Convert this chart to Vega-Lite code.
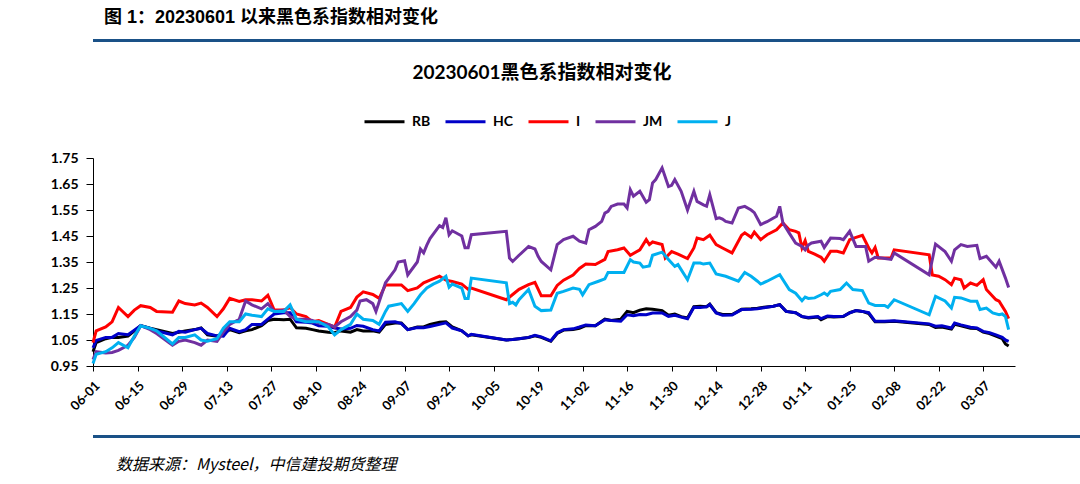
{
  "$schema": "https://vega.github.io/schema/vega-lite/v6.json",
  "background": "white",
  "padding": {"left": 22, "top": 8, "right": 0, "bottom": 0},
  "spacing": 20,
  "resolve": {"legend": {"color": "independent"}},
  "config": {"view": {"stroke": null}, "axis": {"grid": false, "domainColor": "black", "tickColor": "black", "labelColor": "black", "labelFont": "Lato", "labelFontWeight": "bold"}},
  "vconcat": [
    {
      "width": 1040, "height": 3,
      "data": {"values": [{}]},
      "mark": {"type": "point", "opacity": 0},
      "view": {"fill": "#1a5187", "stroke": null},
      "title": {"text": "图 1：20230601 以来黑色系指数相对变化", "anchor": "start", "font": "Liberation Sans, Noto Sans CJK SC", "fontSize": 18, "fontWeight": "bold", "color": "black", "offset": 11, "dx": 11}
    },
    {
      "width": 922, "height": 208,
      "title": {"text": "20230601黑色系指数相对变化", "font": "Lato, Noto Sans CJK SC", "fontSize": 19, "fontWeight": "bold", "color": "black", "anchor": "middle", "frame": "group", "dx": -12, "offset": 17},
      "data": {"values": [
{"s":"RB","d":"2023-06-01","v":1.005},{"s":"RB","d":"2023-06-02","v":1.04},{"s":"RB","d":"2023-06-05","v":1.055},{"s":"RB","d":"2023-06-07","v":1.06},{"s":"RB","d":"2023-06-09","v":1.06},{"s":"RB","d":"2023-06-12","v":1.065},{"s":"RB","d":"2023-06-14","v":1.085},{"s":"RB","d":"2023-06-16","v":1.105},{"s":"RB","d":"2023-06-19","v":1.095},{"s":"RB","d":"2023-06-21","v":1.09},{"s":"RB","d":"2023-06-26","v":1.075},{"s":"RB","d":"2023-06-28","v":1.08},{"s":"RB","d":"2023-06-30","v":1.085},{"s":"RB","d":"2023-07-03","v":1.09},{"s":"RB","d":"2023-07-05","v":1.096},{"s":"RB","d":"2023-07-07","v":1.07},{"s":"RB","d":"2023-07-10","v":1.065},{"s":"RB","d":"2023-07-12","v":1.075},{"s":"RB","d":"2023-07-14","v":1.09},{"s":"RB","d":"2023-07-17","v":1.078},{"s":"RB","d":"2023-07-19","v":1.085},{"s":"RB","d":"2023-07-21","v":1.09},{"s":"RB","d":"2023-07-24","v":1.105},{"s":"RB","d":"2023-07-26","v":1.125},{"s":"RB","d":"2023-07-28","v":1.13},{"s":"RB","d":"2023-07-31","v":1.128},{"s":"RB","d":"2023-08-02","v":1.13},{"s":"RB","d":"2023-08-04","v":1.097},{"s":"RB","d":"2023-08-07","v":1.095},{"s":"RB","d":"2023-08-09","v":1.09},{"s":"RB","d":"2023-08-11","v":1.085},{"s":"RB","d":"2023-08-14","v":1.08},{"s":"RB","d":"2023-08-16","v":1.078},{"s":"RB","d":"2023-08-18","v":1.085},{"s":"RB","d":"2023-08-21","v":1.08},{"s":"RB","d":"2023-08-23","v":1.09},{"s":"RB","d":"2023-08-25","v":1.085},{"s":"RB","d":"2023-08-28","v":1.085},{"s":"RB","d":"2023-08-30","v":1.08},{"s":"RB","d":"2023-09-01","v":1.11},{"s":"RB","d":"2023-09-04","v":1.115},{"s":"RB","d":"2023-09-06","v":1.115},{"s":"RB","d":"2023-09-08","v":1.09},{"s":"RB","d":"2023-09-11","v":1.1},{"s":"RB","d":"2023-09-13","v":1.1},{"s":"RB","d":"2023-09-15","v":1.11},{"s":"RB","d":"2023-09-18","v":1.118},{"s":"RB","d":"2023-09-20","v":1.12},{"s":"RB","d":"2023-09-22","v":1.1},{"s":"RB","d":"2023-09-25","v":1.085},{"s":"RB","d":"2023-09-27","v":1.066},{"s":"RB","d":"2023-09-28","v":1.07},{"s":"RB","d":"2023-10-09","v":1.05},{"s":"RB","d":"2023-10-11","v":1.052},{"s":"RB","d":"2023-10-13","v":1.055},{"s":"RB","d":"2023-10-16","v":1.06},{"s":"RB","d":"2023-10-18","v":1.066},{"s":"RB","d":"2023-10-20","v":1.06},{"s":"RB","d":"2023-10-23","v":1.045},{"s":"RB","d":"2023-10-25","v":1.075},{"s":"RB","d":"2023-10-27","v":1.088},{"s":"RB","d":"2023-10-30","v":1.09},{"s":"RB","d":"2023-11-01","v":1.095},{"s":"RB","d":"2023-11-03","v":1.105},{"s":"RB","d":"2023-11-06","v":1.105},{"s":"RB","d":"2023-11-09","v":1.13},{"s":"RB","d":"2023-11-11","v":1.125},{"s":"RB","d":"2023-11-14","v":1.13},{"s":"RB","d":"2023-11-16","v":1.16},{"s":"RB","d":"2023-11-18","v":1.155},{"s":"RB","d":"2023-11-20","v":1.165},{"s":"RB","d":"2023-11-22","v":1.17},{"s":"RB","d":"2023-11-24","v":1.168},{"s":"RB","d":"2023-11-27","v":1.163},{"s":"RB","d":"2023-11-29","v":1.145},{"s":"RB","d":"2023-12-01","v":1.15},{"s":"RB","d":"2023-12-03","v":1.14},{"s":"RB","d":"2023-12-05","v":1.135},{"s":"RB","d":"2023-12-07","v":1.178},{"s":"RB","d":"2023-12-09","v":1.18},{"s":"RB","d":"2023-12-11","v":1.178},{"s":"RB","d":"2023-12-12","v":1.188},{"s":"RB","d":"2023-12-14","v":1.155},{"s":"RB","d":"2023-12-16","v":1.148},{"s":"RB","d":"2023-12-19","v":1.148},{"s":"RB","d":"2023-12-22","v":1.168},{"s":"RB","d":"2023-12-25","v":1.17},{"s":"RB","d":"2023-12-27","v":1.172},{"s":"RB","d":"2023-12-29","v":1.176},{"s":"RB","d":"2024-01-01","v":1.18},{"s":"RB","d":"2024-01-03","v":1.186},{"s":"RB","d":"2024-01-05","v":1.16},{"s":"RB","d":"2024-01-08","v":1.155},{"s":"RB","d":"2024-01-10","v":1.14},{"s":"RB","d":"2024-01-12","v":1.135},{"s":"RB","d":"2024-01-15","v":1.138},{"s":"RB","d":"2024-01-16","v":1.128},{"s":"RB","d":"2024-01-18","v":1.14},{"s":"RB","d":"2024-01-20","v":1.138},{"s":"RB","d":"2024-01-23","v":1.14},{"s":"RB","d":"2024-01-25","v":1.155},{"s":"RB","d":"2024-01-27","v":1.163},{"s":"RB","d":"2024-01-29","v":1.16},{"s":"RB","d":"2024-01-31","v":1.152},{"s":"RB","d":"2024-02-02","v":1.12},{"s":"RB","d":"2024-02-05","v":1.12},{"s":"RB","d":"2024-02-08","v":1.122},{"s":"RB","d":"2024-02-19","v":1.11},{"s":"RB","d":"2024-02-21","v":1.098},{"s":"RB","d":"2024-02-23","v":1.1},{"s":"RB","d":"2024-02-26","v":1.092},{"s":"RB","d":"2024-02-27","v":1.11},{"s":"RB","d":"2024-02-29","v":1.105},{"s":"RB","d":"2024-03-03","v":1.095},{"s":"RB","d":"2024-03-05","v":1.094},{"s":"RB","d":"2024-03-07","v":1.08},{"s":"RB","d":"2024-03-09","v":1.075},{"s":"RB","d":"2024-03-11","v":1.065},{"s":"RB","d":"2024-03-13","v":1.055},{"s":"RB","d":"2024-03-14","v":1.035},{"s":"RB","d":"2024-03-15","v":1.027},
{"s":"HC","d":"2023-06-01","v":1.02},{"s":"HC","d":"2023-06-02","v":1.048},{"s":"HC","d":"2023-06-05","v":1.06},{"s":"HC","d":"2023-06-07","v":1.06},{"s":"HC","d":"2023-06-09","v":1.075},{"s":"HC","d":"2023-06-12","v":1.07},{"s":"HC","d":"2023-06-14","v":1.088},{"s":"HC","d":"2023-06-16","v":1.105},{"s":"HC","d":"2023-06-19","v":1.095},{"s":"HC","d":"2023-06-21","v":1.085},{"s":"HC","d":"2023-06-26","v":1.07},{"s":"HC","d":"2023-06-28","v":1.083},{"s":"HC","d":"2023-06-30","v":1.08},{"s":"HC","d":"2023-07-03","v":1.09},{"s":"HC","d":"2023-07-05","v":1.095},{"s":"HC","d":"2023-07-07","v":1.075},{"s":"HC","d":"2023-07-10","v":1.066},{"s":"HC","d":"2023-07-12","v":1.065},{"s":"HC","d":"2023-07-14","v":1.095},{"s":"HC","d":"2023-07-17","v":1.082},{"s":"HC","d":"2023-07-19","v":1.09},{"s":"HC","d":"2023-07-21","v":1.11},{"s":"HC","d":"2023-07-24","v":1.11},{"s":"HC","d":"2023-07-26","v":1.13},{"s":"HC","d":"2023-07-28","v":1.15},{"s":"HC","d":"2023-07-31","v":1.155},{"s":"HC","d":"2023-08-02","v":1.155},{"s":"HC","d":"2023-08-04","v":1.12},{"s":"HC","d":"2023-08-07","v":1.118},{"s":"HC","d":"2023-08-09","v":1.115},{"s":"HC","d":"2023-08-11","v":1.105},{"s":"HC","d":"2023-08-14","v":1.103},{"s":"HC","d":"2023-08-16","v":1.096},{"s":"HC","d":"2023-08-18","v":1.092},{"s":"HC","d":"2023-08-21","v":1.095},{"s":"HC","d":"2023-08-23","v":1.106},{"s":"HC","d":"2023-08-25","v":1.103},{"s":"HC","d":"2023-08-28","v":1.09},{"s":"HC","d":"2023-08-30","v":1.085},{"s":"HC","d":"2023-09-01","v":1.118},{"s":"HC","d":"2023-09-04","v":1.12},{"s":"HC","d":"2023-09-06","v":1.113},{"s":"HC","d":"2023-09-08","v":1.09},{"s":"HC","d":"2023-09-11","v":1.098},{"s":"HC","d":"2023-09-13","v":1.097},{"s":"HC","d":"2023-09-15","v":1.102},{"s":"HC","d":"2023-09-18","v":1.11},{"s":"HC","d":"2023-09-20","v":1.116},{"s":"HC","d":"2023-09-22","v":1.096},{"s":"HC","d":"2023-09-25","v":1.085},{"s":"HC","d":"2023-09-27","v":1.066},{"s":"HC","d":"2023-09-28","v":1.072},{"s":"HC","d":"2023-10-09","v":1.05},{"s":"HC","d":"2023-10-11","v":1.052},{"s":"HC","d":"2023-10-13","v":1.055},{"s":"HC","d":"2023-10-16","v":1.06},{"s":"HC","d":"2023-10-18","v":1.068},{"s":"HC","d":"2023-10-20","v":1.062},{"s":"HC","d":"2023-10-23","v":1.047},{"s":"HC","d":"2023-10-25","v":1.078},{"s":"HC","d":"2023-10-27","v":1.09},{"s":"HC","d":"2023-10-30","v":1.093},{"s":"HC","d":"2023-11-01","v":1.1},{"s":"HC","d":"2023-11-03","v":1.108},{"s":"HC","d":"2023-11-06","v":1.105},{"s":"HC","d":"2023-11-09","v":1.128},{"s":"HC","d":"2023-11-11","v":1.125},{"s":"HC","d":"2023-11-14","v":1.122},{"s":"HC","d":"2023-11-16","v":1.147},{"s":"HC","d":"2023-11-18","v":1.143},{"s":"HC","d":"2023-11-20","v":1.148},{"s":"HC","d":"2023-11-22","v":1.147},{"s":"HC","d":"2023-11-24","v":1.154},{"s":"HC","d":"2023-11-27","v":1.154},{"s":"HC","d":"2023-11-29","v":1.141},{"s":"HC","d":"2023-12-01","v":1.145},{"s":"HC","d":"2023-12-03","v":1.138},{"s":"HC","d":"2023-12-05","v":1.132},{"s":"HC","d":"2023-12-07","v":1.176},{"s":"HC","d":"2023-12-09","v":1.175},{"s":"HC","d":"2023-12-11","v":1.178},{"s":"HC","d":"2023-12-12","v":1.186},{"s":"HC","d":"2023-12-14","v":1.154},{"s":"HC","d":"2023-12-16","v":1.145},{"s":"HC","d":"2023-12-19","v":1.146},{"s":"HC","d":"2023-12-22","v":1.167},{"s":"HC","d":"2023-12-25","v":1.168},{"s":"HC","d":"2023-12-27","v":1.17},{"s":"HC","d":"2023-12-29","v":1.174},{"s":"HC","d":"2024-01-01","v":1.18},{"s":"HC","d":"2024-01-03","v":1.186},{"s":"HC","d":"2024-01-05","v":1.16},{"s":"HC","d":"2024-01-08","v":1.155},{"s":"HC","d":"2024-01-10","v":1.14},{"s":"HC","d":"2024-01-12","v":1.137},{"s":"HC","d":"2024-01-15","v":1.14},{"s":"HC","d":"2024-01-16","v":1.132},{"s":"HC","d":"2024-01-18","v":1.142},{"s":"HC","d":"2024-01-20","v":1.14},{"s":"HC","d":"2024-01-23","v":1.141},{"s":"HC","d":"2024-01-25","v":1.154},{"s":"HC","d":"2024-01-27","v":1.163},{"s":"HC","d":"2024-01-29","v":1.16},{"s":"HC","d":"2024-01-31","v":1.155},{"s":"HC","d":"2024-02-02","v":1.122},{"s":"HC","d":"2024-02-05","v":1.122},{"s":"HC","d":"2024-02-08","v":1.124},{"s":"HC","d":"2024-02-19","v":1.112},{"s":"HC","d":"2024-02-21","v":1.103},{"s":"HC","d":"2024-02-23","v":1.105},{"s":"HC","d":"2024-02-26","v":1.096},{"s":"HC","d":"2024-02-27","v":1.115},{"s":"HC","d":"2024-02-29","v":1.108},{"s":"HC","d":"2024-03-03","v":1.099},{"s":"HC","d":"2024-03-05","v":1.096},{"s":"HC","d":"2024-03-07","v":1.083},{"s":"HC","d":"2024-03-09","v":1.078},{"s":"HC","d":"2024-03-11","v":1.07},{"s":"HC","d":"2024-03-13","v":1.06},{"s":"HC","d":"2024-03-14","v":1.05},{"s":"HC","d":"2024-03-15","v":1.045},
{"s":"I","d":"2023-06-01","v":1.04},{"s":"I","d":"2023-06-02","v":1.085},{"s":"I","d":"2023-06-05","v":1.1},{"s":"I","d":"2023-06-07","v":1.12},{"s":"I","d":"2023-06-09","v":1.175},{"s":"I","d":"2023-06-12","v":1.14},{"s":"I","d":"2023-06-14","v":1.165},{"s":"I","d":"2023-06-16","v":1.182},{"s":"I","d":"2023-06-19","v":1.175},{"s":"I","d":"2023-06-21","v":1.16},{"s":"I","d":"2023-06-26","v":1.157},{"s":"I","d":"2023-06-28","v":1.2},{"s":"I","d":"2023-06-30","v":1.19},{"s":"I","d":"2023-07-03","v":1.185},{"s":"I","d":"2023-07-05","v":1.192},{"s":"I","d":"2023-07-07","v":1.175},{"s":"I","d":"2023-07-10","v":1.14},{"s":"I","d":"2023-07-12","v":1.17},{"s":"I","d":"2023-07-14","v":1.21},{"s":"I","d":"2023-07-17","v":1.198},{"s":"I","d":"2023-07-19","v":1.205},{"s":"I","d":"2023-07-21","v":1.205},{"s":"I","d":"2023-07-24","v":1.2},{"s":"I","d":"2023-07-26","v":1.222},{"s":"I","d":"2023-07-28","v":1.165},{"s":"I","d":"2023-07-31","v":1.165},{"s":"I","d":"2023-08-02","v":1.175},{"s":"I","d":"2023-08-04","v":1.15},{"s":"I","d":"2023-08-07","v":1.14},{"s":"I","d":"2023-08-09","v":1.12},{"s":"I","d":"2023-08-11","v":1.125},{"s":"I","d":"2023-08-14","v":1.11},{"s":"I","d":"2023-08-16","v":1.1},{"s":"I","d":"2023-08-18","v":1.16},{"s":"I","d":"2023-08-21","v":1.175},{"s":"I","d":"2023-08-23","v":1.215},{"s":"I","d":"2023-08-25","v":1.235},{"s":"I","d":"2023-08-28","v":1.225},{"s":"I","d":"2023-08-30","v":1.21},{"s":"I","d":"2023-09-01","v":1.262},{"s":"I","d":"2023-09-04","v":1.262},{"s":"I","d":"2023-09-06","v":1.262},{"s":"I","d":"2023-09-08","v":1.24},{"s":"I","d":"2023-09-11","v":1.25},{"s":"I","d":"2023-09-13","v":1.27},{"s":"I","d":"2023-09-15","v":1.28},{"s":"I","d":"2023-09-18","v":1.295},{"s":"I","d":"2023-09-20","v":1.28},{"s":"I","d":"2023-09-22","v":1.275},{"s":"I","d":"2023-09-25","v":1.265},{"s":"I","d":"2023-09-27","v":1.245},{"s":"I","d":"2023-09-28","v":1.25},{"s":"I","d":"2023-10-09","v":1.205},{"s":"I","d":"2023-10-11","v":1.225},{"s":"I","d":"2023-10-13","v":1.245},{"s":"I","d":"2023-10-16","v":1.263},{"s":"I","d":"2023-10-18","v":1.272},{"s":"I","d":"2023-10-20","v":1.22},{"s":"I","d":"2023-10-23","v":1.22},{"s":"I","d":"2023-10-25","v":1.26},{"s":"I","d":"2023-10-27","v":1.28},{"s":"I","d":"2023-10-30","v":1.3},{"s":"I","d":"2023-11-01","v":1.325},{"s":"I","d":"2023-11-03","v":1.342},{"s":"I","d":"2023-11-06","v":1.34},{"s":"I","d":"2023-11-09","v":1.36},{"s":"I","d":"2023-11-10","v":1.39},{"s":"I","d":"2023-11-13","v":1.397},{"s":"I","d":"2023-11-15","v":1.404},{"s":"I","d":"2023-11-17","v":1.376},{"s":"I","d":"2023-11-20","v":1.397},{"s":"I","d":"2023-11-22","v":1.436},{"s":"I","d":"2023-11-23","v":1.417},{"s":"I","d":"2023-11-24","v":1.427},{"s":"I","d":"2023-11-27","v":1.417},{"s":"I","d":"2023-11-28","v":1.365},{"s":"I","d":"2023-11-30","v":1.39},{"s":"I","d":"2023-12-02","v":1.38},{"s":"I","d":"2023-12-05","v":1.363},{"s":"I","d":"2023-12-07","v":1.404},{"s":"I","d":"2023-12-08","v":1.442},{"s":"I","d":"2023-12-10","v":1.436},{"s":"I","d":"2023-12-12","v":1.453},{"s":"I","d":"2023-12-14","v":1.417},{"s":"I","d":"2023-12-16","v":1.404},{"s":"I","d":"2023-12-19","v":1.385},{"s":"I","d":"2023-12-22","v":1.453},{"s":"I","d":"2023-12-23","v":1.462},{"s":"I","d":"2023-12-25","v":1.445},{"s":"I","d":"2023-12-26","v":1.465},{"s":"I","d":"2023-12-28","v":1.436},{"s":"I","d":"2023-12-30","v":1.455},{"s":"I","d":"2024-01-02","v":1.474},{"s":"I","d":"2024-01-04","v":1.5},{"s":"I","d":"2024-01-06","v":1.474},{"s":"I","d":"2024-01-08","v":1.468},{"s":"I","d":"2024-01-09","v":1.462},{"s":"I","d":"2024-01-10","v":1.404},{"s":"I","d":"2024-01-11","v":1.432},{"s":"I","d":"2024-01-12","v":1.391},{"s":"I","d":"2024-01-14","v":1.38},{"s":"I","d":"2024-01-16","v":1.368},{"s":"I","d":"2024-01-17","v":1.353},{"s":"I","d":"2024-01-19","v":1.391},{"s":"I","d":"2024-01-21","v":1.391},{"s":"I","d":"2024-01-23","v":1.385},{"s":"I","d":"2024-01-25","v":1.436},{"s":"I","d":"2024-01-27","v":1.445},{"s":"I","d":"2024-01-29","v":1.453},{"s":"I","d":"2024-01-31","v":1.404},{"s":"I","d":"2024-02-01","v":1.385},{"s":"I","d":"2024-02-02","v":1.406},{"s":"I","d":"2024-02-03","v":1.365},{"s":"I","d":"2024-02-07","v":1.365},{"s":"I","d":"2024-02-08","v":1.397},{"s":"I","d":"2024-02-19","v":1.378},{"s":"I","d":"2024-02-20","v":1.3},{"s":"I","d":"2024-02-22","v":1.295},{"s":"I","d":"2024-02-24","v":1.282},{"s":"I","d":"2024-02-26","v":1.263},{"s":"I","d":"2024-02-27","v":1.288},{"s":"I","d":"2024-02-29","v":1.282},{"s":"I","d":"2024-03-01","v":1.25},{"s":"I","d":"2024-03-03","v":1.269},{"s":"I","d":"2024-03-05","v":1.26},{"s":"I","d":"2024-03-07","v":1.282},{"s":"I","d":"2024-03-08","v":1.244},{"s":"I","d":"2024-03-11","v":1.205},{"s":"I","d":"2024-03-12","v":1.199},{"s":"I","d":"2024-03-14","v":1.16},{"s":"I","d":"2024-03-15","v":1.132},
{"s":"JM","d":"2023-06-01","v":0.975},{"s":"JM","d":"2023-06-02","v":1.005},{"s":"JM","d":"2023-06-05","v":1.0},{"s":"JM","d":"2023-06-07","v":1.002},{"s":"JM","d":"2023-06-09","v":1.01},{"s":"JM","d":"2023-06-12","v":1.03},{"s":"JM","d":"2023-06-14","v":1.06},{"s":"JM","d":"2023-06-16","v":1.105},{"s":"JM","d":"2023-06-19","v":1.09},{"s":"JM","d":"2023-06-21","v":1.075},{"s":"JM","d":"2023-06-26","v":1.03},{"s":"JM","d":"2023-06-28","v":1.045},{"s":"JM","d":"2023-06-30","v":1.05},{"s":"JM","d":"2023-07-03","v":1.04},{"s":"JM","d":"2023-07-05","v":1.03},{"s":"JM","d":"2023-07-07","v":1.05},{"s":"JM","d":"2023-07-10","v":1.045},{"s":"JM","d":"2023-07-12","v":1.08},{"s":"JM","d":"2023-07-14","v":1.11},{"s":"JM","d":"2023-07-17","v":1.13},{"s":"JM","d":"2023-07-19","v":1.2},{"s":"JM","d":"2023-07-21","v":1.185},{"s":"JM","d":"2023-07-24","v":1.17},{"s":"JM","d":"2023-07-26","v":1.19},{"s":"JM","d":"2023-07-28","v":1.16},{"s":"JM","d":"2023-07-31","v":1.165},{"s":"JM","d":"2023-08-02","v":1.14},{"s":"JM","d":"2023-08-04","v":1.13},{"s":"JM","d":"2023-08-07","v":1.13},{"s":"JM","d":"2023-08-09","v":1.125},{"s":"JM","d":"2023-08-11","v":1.115},{"s":"JM","d":"2023-08-14","v":1.11},{"s":"JM","d":"2023-08-16","v":1.1},{"s":"JM","d":"2023-08-18","v":1.12},{"s":"JM","d":"2023-08-21","v":1.14},{"s":"JM","d":"2023-08-23","v":1.165},{"s":"JM","d":"2023-08-24","v":1.2},{"s":"JM","d":"2023-08-26","v":1.205},{"s":"JM","d":"2023-08-28","v":1.19},{"s":"JM","d":"2023-08-29","v":1.16},{"s":"JM","d":"2023-09-01","v":1.27},{"s":"JM","d":"2023-09-04","v":1.32},{"s":"JM","d":"2023-09-05","v":1.35},{"s":"JM","d":"2023-09-07","v":1.355},{"s":"JM","d":"2023-09-08","v":1.3},{"s":"JM","d":"2023-09-11","v":1.35},{"s":"JM","d":"2023-09-12","v":1.4},{"s":"JM","d":"2023-09-13","v":1.385},{"s":"JM","d":"2023-09-14","v":1.415},{"s":"JM","d":"2023-09-15","v":1.44},{"s":"JM","d":"2023-09-18","v":1.49},{"s":"JM","d":"2023-09-19","v":1.483},{"s":"JM","d":"2023-09-20","v":1.52},{"s":"JM","d":"2023-09-21","v":1.455},{"s":"JM","d":"2023-09-22","v":1.47},{"s":"JM","d":"2023-09-25","v":1.45},{"s":"JM","d":"2023-09-26","v":1.405},{"s":"JM","d":"2023-09-27","v":1.405},{"s":"JM","d":"2023-09-28","v":1.455},{"s":"JM","d":"2023-10-09","v":1.468},{"s":"JM","d":"2023-10-10","v":1.365},{"s":"JM","d":"2023-10-11","v":1.352},{"s":"JM","d":"2023-10-13","v":1.376},{"s":"JM","d":"2023-10-16","v":1.41},{"s":"JM","d":"2023-10-18","v":1.4},{"s":"JM","d":"2023-10-19","v":1.372},{"s":"JM","d":"2023-10-20","v":1.352},{"s":"JM","d":"2023-10-23","v":1.32},{"s":"JM","d":"2023-10-25","v":1.417},{"s":"JM","d":"2023-10-27","v":1.436},{"s":"JM","d":"2023-10-30","v":1.449},{"s":"JM","d":"2023-11-01","v":1.43},{"s":"JM","d":"2023-11-03","v":1.423},{"s":"JM","d":"2023-11-04","v":1.474},{"s":"JM","d":"2023-11-06","v":1.487},{"s":"JM","d":"2023-11-08","v":1.506},{"s":"JM","d":"2023-11-09","v":1.538},{"s":"JM","d":"2023-11-10","v":1.545},{"s":"JM","d":"2023-11-11","v":1.564},{"s":"JM","d":"2023-11-13","v":1.573},{"s":"JM","d":"2023-11-15","v":1.573},{"s":"JM","d":"2023-11-16","v":1.558},{"s":"JM","d":"2023-11-17","v":1.628},{"s":"JM","d":"2023-11-18","v":1.603},{"s":"JM","d":"2023-11-20","v":1.622},{"s":"JM","d":"2023-11-22","v":1.58},{"s":"JM","d":"2023-11-23","v":1.59},{"s":"JM","d":"2023-11-24","v":1.654},{"s":"JM","d":"2023-11-25","v":1.667},{"s":"JM","d":"2023-11-27","v":1.712},{"s":"JM","d":"2023-11-29","v":1.64},{"s":"JM","d":"2023-11-30","v":1.645},{"s":"JM","d":"2023-12-01","v":1.667},{"s":"JM","d":"2023-12-03","v":1.622},{"s":"JM","d":"2023-12-05","v":1.55},{"s":"JM","d":"2023-12-07","v":1.622},{"s":"JM","d":"2023-12-08","v":1.583},{"s":"JM","d":"2023-12-10","v":1.57},{"s":"JM","d":"2023-12-11","v":1.565},{"s":"JM","d":"2023-12-12","v":1.609},{"s":"JM","d":"2023-12-14","v":1.517},{"s":"JM","d":"2023-12-15","v":1.52},{"s":"JM","d":"2023-12-16","v":1.515},{"s":"JM","d":"2023-12-17","v":1.506},{"s":"JM","d":"2023-12-19","v":1.5},{"s":"JM","d":"2023-12-21","v":1.558},{"s":"JM","d":"2023-12-23","v":1.564},{"s":"JM","d":"2023-12-25","v":1.55},{"s":"JM","d":"2023-12-26","v":1.54},{"s":"JM","d":"2023-12-28","v":1.494},{"s":"JM","d":"2023-12-30","v":1.505},{"s":"JM","d":"2024-01-02","v":1.526},{"s":"JM","d":"2024-01-03","v":1.564},{"s":"JM","d":"2024-01-04","v":1.5},{"s":"JM","d":"2024-01-06","v":1.461},{"s":"JM","d":"2024-01-08","v":1.423},{"s":"JM","d":"2024-01-10","v":1.41},{"s":"JM","d":"2024-01-11","v":1.397},{"s":"JM","d":"2024-01-12","v":1.415},{"s":"JM","d":"2024-01-13","v":1.423},{"s":"JM","d":"2024-01-16","v":1.43},{"s":"JM","d":"2024-01-17","v":1.406},{"s":"JM","d":"2024-01-19","v":1.442},{"s":"JM","d":"2024-01-22","v":1.44},{"s":"JM","d":"2024-01-23","v":1.436},{"s":"JM","d":"2024-01-25","v":1.468},{"s":"JM","d":"2024-01-27","v":1.41},{"s":"JM","d":"2024-01-30","v":1.41},{"s":"JM","d":"2024-01-31","v":1.353},{"s":"JM","d":"2024-02-02","v":1.368},{"s":"JM","d":"2024-02-04","v":1.365},{"s":"JM","d":"2024-02-07","v":1.36},{"s":"JM","d":"2024-02-08","v":1.385},{"s":"JM","d":"2024-02-19","v":1.301},{"s":"JM","d":"2024-02-21","v":1.419},{"s":"JM","d":"2024-02-24","v":1.39},{"s":"JM","d":"2024-02-26","v":1.353},{"s":"JM","d":"2024-02-27","v":1.397},{"s":"JM","d":"2024-02-29","v":1.417},{"s":"JM","d":"2024-03-02","v":1.41},{"s":"JM","d":"2024-03-05","v":1.414},{"s":"JM","d":"2024-03-06","v":1.363},{"s":"JM","d":"2024-03-08","v":1.372},{"s":"JM","d":"2024-03-11","v":1.33},{"s":"JM","d":"2024-03-12","v":1.353},{"s":"JM","d":"2024-03-14","v":1.288},{"s":"JM","d":"2024-03-15","v":1.252},
{"s":"J","d":"2023-06-01","v":0.96},{"s":"J","d":"2023-06-02","v":0.995},{"s":"J","d":"2023-06-05","v":1.005},{"s":"J","d":"2023-06-07","v":1.02},{"s":"J","d":"2023-06-09","v":1.04},{"s":"J","d":"2023-06-12","v":1.02},{"s":"J","d":"2023-06-14","v":1.065},{"s":"J","d":"2023-06-16","v":1.105},{"s":"J","d":"2023-06-19","v":1.095},{"s":"J","d":"2023-06-21","v":1.085},{"s":"J","d":"2023-06-26","v":1.035},{"s":"J","d":"2023-06-28","v":1.06},{"s":"J","d":"2023-06-30","v":1.06},{"s":"J","d":"2023-07-03","v":1.07},{"s":"J","d":"2023-07-05","v":1.05},{"s":"J","d":"2023-07-07","v":1.045},{"s":"J","d":"2023-07-10","v":1.055},{"s":"J","d":"2023-07-12","v":1.095},{"s":"J","d":"2023-07-14","v":1.12},{"s":"J","d":"2023-07-17","v":1.12},{"s":"J","d":"2023-07-19","v":1.15},{"s":"J","d":"2023-07-21","v":1.145},{"s":"J","d":"2023-07-24","v":1.14},{"s":"J","d":"2023-07-26","v":1.17},{"s":"J","d":"2023-07-28","v":1.16},{"s":"J","d":"2023-07-31","v":1.16},{"s":"J","d":"2023-08-02","v":1.185},{"s":"J","d":"2023-08-04","v":1.13},{"s":"J","d":"2023-08-07","v":1.12},{"s":"J","d":"2023-08-09","v":1.12},{"s":"J","d":"2023-08-11","v":1.12},{"s":"J","d":"2023-08-14","v":1.1},{"s":"J","d":"2023-08-16","v":1.07},{"s":"J","d":"2023-08-18","v":1.09},{"s":"J","d":"2023-08-21","v":1.11},{"s":"J","d":"2023-08-23","v":1.15},{"s":"J","d":"2023-08-25","v":1.13},{"s":"J","d":"2023-08-28","v":1.125},{"s":"J","d":"2023-08-30","v":1.11},{"s":"J","d":"2023-09-01","v":1.16},{"s":"J","d":"2023-09-02","v":1.18},{"s":"J","d":"2023-09-06","v":1.19},{"s":"J","d":"2023-09-08","v":1.16},{"s":"J","d":"2023-09-10","v":1.19},{"s":"J","d":"2023-09-12","v":1.224},{"s":"J","d":"2023-09-14","v":1.25},{"s":"J","d":"2023-09-16","v":1.265},{"s":"J","d":"2023-09-18","v":1.276},{"s":"J","d":"2023-09-20","v":1.295},{"s":"J","d":"2023-09-21","v":1.253},{"s":"J","d":"2023-09-22","v":1.265},{"s":"J","d":"2023-09-25","v":1.25},{"s":"J","d":"2023-09-26","v":1.21},{"s":"J","d":"2023-09-27","v":1.21},{"s":"J","d":"2023-09-28","v":1.288},{"s":"J","d":"2023-10-09","v":1.27},{"s":"J","d":"2023-10-10","v":1.19},{"s":"J","d":"2023-10-11","v":1.195},{"s":"J","d":"2023-10-12","v":1.185},{"s":"J","d":"2023-10-13","v":1.205},{"s":"J","d":"2023-10-16","v":1.244},{"s":"J","d":"2023-10-18","v":1.18},{"s":"J","d":"2023-10-20","v":1.163},{"s":"J","d":"2023-10-23","v":1.165},{"s":"J","d":"2023-10-25","v":1.23},{"s":"J","d":"2023-10-27","v":1.237},{"s":"J","d":"2023-10-30","v":1.25},{"s":"J","d":"2023-11-01","v":1.245},{"s":"J","d":"2023-11-02","v":1.224},{"s":"J","d":"2023-11-04","v":1.263},{"s":"J","d":"2023-11-07","v":1.276},{"s":"J","d":"2023-11-09","v":1.285},{"s":"J","d":"2023-11-10","v":1.31},{"s":"J","d":"2023-11-15","v":1.31},{"s":"J","d":"2023-11-17","v":1.359},{"s":"J","d":"2023-11-18","v":1.35},{"s":"J","d":"2023-11-20","v":1.346},{"s":"J","d":"2023-11-21","v":1.33},{"s":"J","d":"2023-11-23","v":1.335},{"s":"J","d":"2023-11-24","v":1.376},{"s":"J","d":"2023-11-27","v":1.388},{"s":"J","d":"2023-11-29","v":1.36},{"s":"J","d":"2023-12-01","v":1.333},{"s":"J","d":"2023-12-02","v":1.34},{"s":"J","d":"2023-12-05","v":1.282},{"s":"J","d":"2023-12-07","v":1.346},{"s":"J","d":"2023-12-09","v":1.346},{"s":"J","d":"2023-12-10","v":1.342},{"s":"J","d":"2023-12-12","v":1.346},{"s":"J","d":"2023-12-14","v":1.304},{"s":"J","d":"2023-12-17","v":1.295},{"s":"J","d":"2023-12-21","v":1.276},{"s":"J","d":"2023-12-23","v":1.31},{"s":"J","d":"2023-12-25","v":1.295},{"s":"J","d":"2023-12-27","v":1.276},{"s":"J","d":"2023-12-28","v":1.265},{"s":"J","d":"2023-12-30","v":1.276},{"s":"J","d":"2024-01-03","v":1.301},{"s":"J","d":"2024-01-06","v":1.244},{"s":"J","d":"2024-01-08","v":1.23},{"s":"J","d":"2024-01-10","v":1.201},{"s":"J","d":"2024-01-11","v":1.215},{"s":"J","d":"2024-01-12","v":1.21},{"s":"J","d":"2024-01-14","v":1.212},{"s":"J","d":"2024-01-16","v":1.224},{"s":"J","d":"2024-01-17","v":1.231},{"s":"J","d":"2024-01-18","v":1.222},{"s":"J","d":"2024-01-19","v":1.237},{"s":"J","d":"2024-01-22","v":1.244},{"s":"J","d":"2024-01-24","v":1.269},{"s":"J","d":"2024-01-26","v":1.244},{"s":"J","d":"2024-01-29","v":1.24},{"s":"J","d":"2024-01-31","v":1.192},{"s":"J","d":"2024-02-02","v":1.183},{"s":"J","d":"2024-02-05","v":1.183},{"s":"J","d":"2024-02-06","v":1.176},{"s":"J","d":"2024-02-08","v":1.205},{"s":"J","d":"2024-02-19","v":1.147},{"s":"J","d":"2024-02-21","v":1.218},{"s":"J","d":"2024-02-24","v":1.2},{"s":"J","d":"2024-02-26","v":1.173},{"s":"J","d":"2024-02-27","v":1.214},{"s":"J","d":"2024-02-29","v":1.212},{"s":"J","d":"2024-03-03","v":1.199},{"s":"J","d":"2024-03-05","v":1.199},{"s":"J","d":"2024-03-06","v":1.167},{"s":"J","d":"2024-03-08","v":1.173},{"s":"J","d":"2024-03-10","v":1.154},{"s":"J","d":"2024-03-12","v":1.147},{"s":"J","d":"2024-03-13","v":1.15},{"s":"J","d":"2024-03-14","v":1.14},{"s":"J","d":"2024-03-15","v":1.09}
      ]},
      "mark": {"type": "line", "strokeWidth": 3, "interpolate": "linear"},
      "encoding": {
        "x": {"field": "d", "type": "temporal",
          "scale": {"type": "utc", "domain": [{"year": 2023, "month": 6, "date": 1, "utc": true}, {"year": 2024, "month": 3, "date": 17, "utc": true}]},
          "axis": {"title": null, "format": "%m-%d", "labelAngle": -45, "labelFontSize": 13, "labelOverlap": false, "tickSize": 5, "labelPadding": 8, "labelFlush": false,
            "values": [
              {"year": 2023, "month": 6, "date": 1, "utc": true}, {"year": 2023, "month": 6, "date": 15, "utc": true}, {"year": 2023, "month": 6, "date": 29, "utc": true},
              {"year": 2023, "month": 7, "date": 13, "utc": true}, {"year": 2023, "month": 7, "date": 27, "utc": true}, {"year": 2023, "month": 8, "date": 10, "utc": true},
              {"year": 2023, "month": 8, "date": 24, "utc": true}, {"year": 2023, "month": 9, "date": 7, "utc": true}, {"year": 2023, "month": 9, "date": 21, "utc": true},
              {"year": 2023, "month": 10, "date": 5, "utc": true}, {"year": 2023, "month": 10, "date": 19, "utc": true}, {"year": 2023, "month": 11, "date": 2, "utc": true},
              {"year": 2023, "month": 11, "date": 16, "utc": true}, {"year": 2023, "month": 11, "date": 30, "utc": true}, {"year": 2023, "month": 12, "date": 14, "utc": true},
              {"year": 2023, "month": 12, "date": 28, "utc": true}, {"year": 2024, "month": 1, "date": 11, "utc": true}, {"year": 2024, "month": 1, "date": 25, "utc": true},
              {"year": 2024, "month": 2, "date": 8, "utc": true}, {"year": 2024, "month": 2, "date": 22, "utc": true}, {"year": 2024, "month": 3, "date": 7, "utc": true}
            ]}},
        "y": {"field": "v", "type": "quantitative",
          "scale": {"domain": [0.95, 1.75], "nice": false, "zero": false},
          "axis": {"title": null, "values": [0.95, 1.05, 1.15, 1.25, 1.35, 1.45, 1.55, 1.65, 1.75], "format": ".2f", "labelFontSize": 14, "tickSize": 7, "labelPadding": 8, "minExtent": 71}},
        "color": {"field": "s", "type": "nominal",
          "scale": {"domain": ["RB", "HC", "I", "JM", "J"], "range": ["#000000", "#0000C8", "#FF0000", "#7030A0", "#00B0F0"]},
          "legend": {"orient": "none", "legendX": 270, "legendY": -58, "direction": "horizontal", "title": null, "symbolType": "stroke", "symbolSize": 1600, "symbolStrokeWidth": 3, "labelFont": "Lato", "labelFontSize": 14, "labelFontWeight": "bold", "labelColor": "black", "columnPadding": 8, "labelOffset": 6}}
      }
    },
    {
      "width": 1040, "height": 3,
      "data": {"values": [{}]},
      "mark": {"type": "point", "opacity": 0},
      "view": {"fill": "#1a5187", "stroke": null},
      "title": {"text": "数据来源：Mysteel，中信建投期货整理", "orient": "bottom", "anchor": "start", "font": "Noto Sans CJK SC", "fontSize": 16, "fontStyle": "italic", "fontWeight": "normal", "color": "black", "offset": 18, "dx": 23}
    }
  ]
}
